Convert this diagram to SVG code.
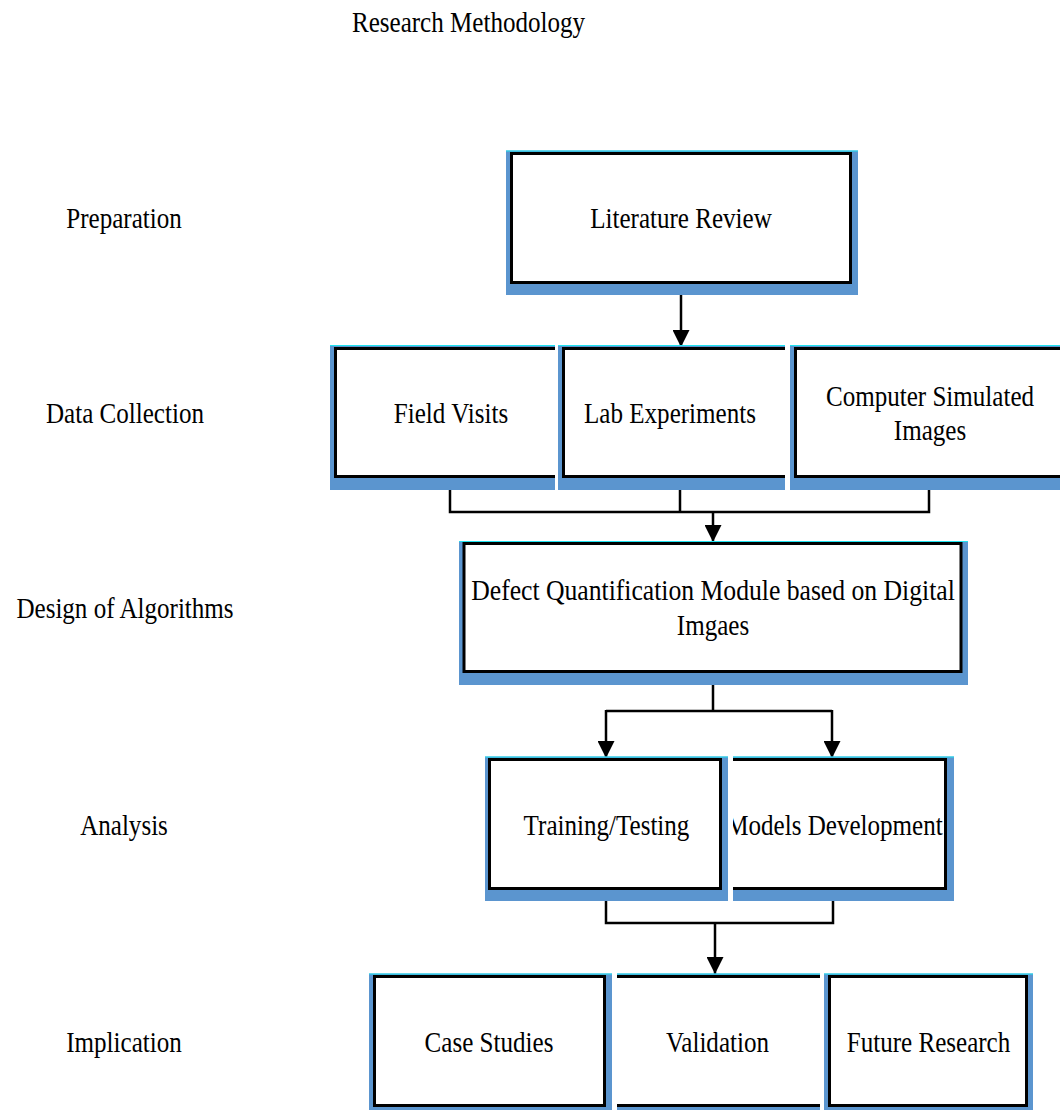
<svg xmlns="http://www.w3.org/2000/svg" width="1060" height="1110" viewBox="0 0 1060 1110">
  <style>
    .bd { fill: #5b95cf; }
    .edge { stroke: #1ee3f0; stroke-width: 1.2; }
    .box { fill: #ffffff; stroke: #000000; stroke-width: 3; }
    .fill { fill: #ffffff; }
    .open { fill: none; stroke: #000000; stroke-width: 3; }
    .conn { fill: none; stroke: #000000; stroke-width: 2.5; }
    .t { font-family: "Liberation Serif", "Times New Roman", serif; font-size: 29.5px; fill: #000000; text-anchor: middle; }
  </style>
  <defs>
    <marker id="arrow" markerUnits="userSpaceOnUse" markerWidth="17" markerHeight="17" refX="17" refY="8.5" orient="auto">
      <path d="M0,0 L17,8.5 L0,17 Z" fill="#000000"/>
    </marker>
    <clipPath id="clip-models" clipPathUnits="userSpaceOnUse">
      <rect x="733" y="740" width="260" height="170"/>
    </clipPath>
  </defs>

  <rect width="1060" height="1110" fill="#ffffff"/>

  <!-- title -->
  <text class="t" transform="translate(468.5 32) scale(0.85 1)">Research Methodology</text>

  <!-- stage labels -->
  <g id="stage-labels">
    <text class="t" transform="translate(124 228) scale(0.85 1)">Preparation</text>
    <text class="t" transform="translate(125 423) scale(0.85 1)">Data Collection</text>
    <text class="t" transform="translate(125 618) scale(0.85 1)">Design of Algorithms</text>
    <text class="t" transform="translate(124 835) scale(0.85 1)">Analysis</text>
    <text class="t" transform="translate(124 1052) scale(0.85 1)">Implication</text>
  </g>

  <!-- connectors -->
  <g id="connectors">
    <line class="conn" x1="681" y1="284" x2="681" y2="347" marker-end="url(#arrow)"/>
    <path class="conn" d="M450,478 V512 H929 V478 M680,478 V512"/>
    <line class="conn" x1="713" y1="512" x2="713" y2="542" marker-end="url(#arrow)"/>
    <path class="conn" d="M713,673 V711 M606,711 H832"/>
    <line class="conn" x1="606" y1="710" x2="606" y2="758" marker-end="url(#arrow)"/>
    <line class="conn" x1="832" y1="710" x2="832" y2="758" marker-end="url(#arrow)"/>
    <path class="conn" d="M606,890 V923 H833 V890"/>
    <line class="conn" x1="715" y1="923" x2="715" y2="974" marker-end="url(#arrow)"/>
  </g>

  <!-- Preparation -->
  <g id="literature-review">
    <rect class="bd" x="506" y="150.5" width="352" height="144.5"/>
    <line class="edge" x1="506" y1="151" x2="858" y2="151"/>
    <rect class="box" x="511.5" y="153.5" width="339" height="129"/>
    <text class="t" transform="translate(681 228) scale(0.85 1)">Literature Review</text>
  </g>

  <!-- Data collection -->
  <g id="field-visits">
    <rect class="bd" x="330" y="345" width="225" height="145"/>
    <line class="edge" x1="330" y1="345.5" x2="555" y2="345.5"/>
    <rect class="fill" x="334" y="347" width="221" height="131"/>
    <path class="open" d="M555,348.5 H335.5 V476.5 H555"/>
    <text class="t" transform="translate(451 423) scale(0.85 1)">Field Visits</text>
  </g>
  <g id="lab-experiments">
    <rect class="bd" x="558" y="345" width="227" height="145"/>
    <line class="edge" x1="558" y1="345.5" x2="785" y2="345.5"/>
    <rect class="fill" x="562" y="347" width="223" height="131"/>
    <path class="open" d="M785,348.5 H563.5 V476.5 H785"/>
    <text class="t" transform="translate(670 423) scale(0.85 1)">Lab Experiments</text>
  </g>
  <g id="computer-simulated-images">
    <rect class="bd" x="790" y="345" width="270" height="145"/>
    <line class="edge" x1="790" y1="345.5" x2="1060" y2="345.5"/>
    <rect class="fill" x="794" y="347" width="266" height="131"/>
    <path class="open" d="M1060,348.5 H795.5 V476.5 H1060"/>
    <text class="t" transform="translate(930 406) scale(0.85 1)">Computer Simulated</text>
    <text class="t" transform="translate(930 440) scale(0.85 1)">Images</text>
  </g>

  <!-- Design of algorithms -->
  <g id="defect-quantification">
    <rect class="bd" x="459" y="541" width="509" height="144"/>
    <line class="edge" x1="459" y1="541.5" x2="968" y2="541.5"/>
    <rect class="box" x="464" y="543.5" width="497" height="128"/>
    <text class="t" transform="translate(713 600) scale(0.87 1)">Defect Quantification Module based on Digital</text>
    <text class="t" transform="translate(713 635) scale(0.85 1)">Imgaes</text>
  </g>

  <!-- Analysis -->
  <g id="models-development">
    <rect class="bd" x="733" y="756.5" width="221" height="144.5"/>
    <line class="edge" x1="733" y1="757" x2="954" y2="757"/>
    <rect class="fill" x="733" y="758" width="214" height="132"/>
    <path class="open" d="M733,759.5 H945.5 V888.5 H733"/>
    <g clip-path="url(#clip-models)">
      <text class="t" transform="translate(834.5 835) scale(0.85 1)">Models Development</text>
    </g>
  </g>
  <g id="training-testing">
    <rect class="bd" x="485" y="756.5" width="243" height="144.5"/>
    <line class="edge" x1="485" y1="757" x2="728" y2="757"/>
    <rect class="box" x="489.5" y="759.5" width="231" height="129"/>
    <text class="t" transform="translate(606.5 835) scale(0.85 1)">Training/Testing</text>
  </g>

  <!-- Implication -->
  <g id="case-studies">
    <rect class="bd" x="369" y="973.5" width="243" height="140"/>
    <line class="edge" x1="369" y1="974" x2="612" y2="974"/>
    <rect class="box" x="374.5" y="976.5" width="230" height="129"/>
    <text class="t" transform="translate(489 1052) scale(0.85 1)">Case Studies</text>
  </g>
  <g id="validation">
    <rect class="bd" x="617" y="973.5" width="203" height="140"/>
    <line class="edge" x1="617" y1="974" x2="820" y2="974"/>
    <rect class="fill" x="617" y="975" width="203" height="132"/>
    <path class="open" d="M617,976.5 H820 M617,1105.5 H820"/>
    <text class="t" transform="translate(717.5 1052) scale(0.85 1)">Validation</text>
  </g>
  <g id="future-research">
    <rect class="bd" x="824" y="973.5" width="209" height="140"/>
    <line class="edge" x1="824" y1="974" x2="1033" y2="974"/>
    <rect class="box" x="829.5" y="976.5" width="197" height="129"/>
    <text class="t" transform="translate(928.5 1052) scale(0.85 1)">Future Research</text>
  </g>
</svg>
